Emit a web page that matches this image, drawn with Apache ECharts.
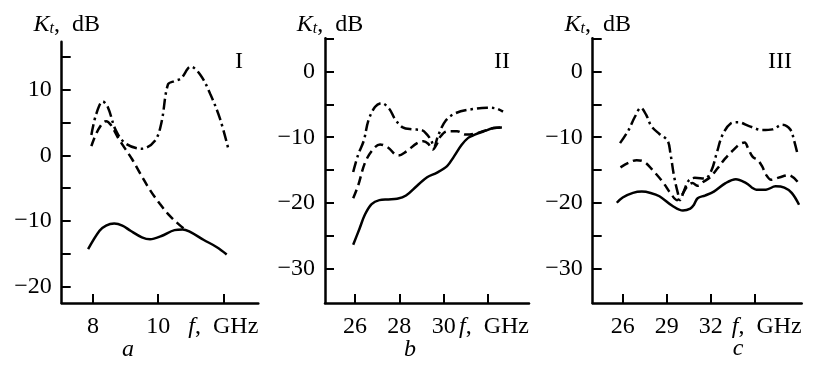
<!DOCTYPE html>
<html><head><meta charset="utf-8">
<script src="https://cdn.jsdelivr.net/npm/echarts@6/dist/echarts.min.js"></script>
<style>html,body{margin:0;padding:0;background:#fff}#c{width:815px;height:368px}</style>
</head><body><div id="c"></div>
<script>
// ---------- Panel I (a) ----------
const solidA = [[7.85,-14.3],[8.2,-11.5],[8.4,-10.7],[8.65,-10.4],[8.9,-10.7],[9.15,-11.5],[9.5,-12.5],[9.75,-12.8],[10.1,-12.3],[10.5,-11.4],[10.75,-11.3],[10.95,-11.6],[11.4,-12.9],[11.8,-14.0],[12.1,-15.1]];
const dashedA = [[7.95,1.4],[8.15,3.8],[8.4,5.2],[8.55,4.6],[8.8,2.4],[9.2,-0.6],[9.45,-2.8],[9.75,-5.3],[10.05,-7.4],[10.35,-9.2],[10.65,-10.6],[10.9,-11.6]];
const dashdotA = [[7.95,3.1],[8.1,6.3],[8.3,8.2],[8.45,7.4],[8.7,3.8],[9.0,1.8],[9.5,1.0],[9.9,2.2],[10.1,5.0],[10.3,10.8],[10.5,11.3],[10.7,11.7],[11.0,13.5],[11.3,12.2],[11.6,9.3],[11.9,5.5],[12.15,1.0]];
// ---------- Panel II (b) ----------
const solidB = [[25.92,-26.4],[26.2,-24.0],[26.45,-21.8],[26.75,-20.2],[27.1,-19.6],[27.5,-19.5],[27.9,-19.4],[28.3,-18.9],[28.8,-17.4],[29.25,-16.1],[29.7,-15.4],[30.15,-14.4],[30.45,-13.0],[30.8,-11.2],[31.1,-10.1],[31.4,-9.6],[31.8,-9.1],[32.25,-8.6],[32.62,-8.5]];
const dashedB = [[25.92,-19.3],[26.15,-17.3],[26.45,-13.9],[26.8,-11.9],[27.13,-11.1],[27.5,-11.6],[27.8,-12.6],[27.95,-12.8],[28.3,-12.2],[28.8,-10.9],[29.08,-10.6],[29.3,-11.0],[29.5,-11.9],[29.68,-11.1],[29.85,-9.9],[30.15,-9.1],[30.6,-9.1],[31.0,-9.6],[31.35,-9.5],[31.8,-9.05],[32.25,-8.6],[32.62,-8.5]];
const dashdotB = [[25.92,-15.3],[26.15,-12.6],[26.4,-10.5],[26.6,-7.5],[26.9,-5.4],[27.2,-4.8],[27.55,-5.7],[27.8,-7.2],[28.15,-8.5],[28.6,-8.8],[29.0,-8.9],[29.25,-9.6],[29.45,-10.6],[29.55,-11.6],[29.75,-9.7],[30.1,-7.4],[30.55,-6.3],[31.3,-5.7],[31.95,-5.5],[32.35,-5.6],[32.67,-6.1]];
// ---------- Panel III (c) ----------
const solidC = [[25.6,-20.0],[26.0,-19.2],[26.7,-18.5],[27.3,-18.3],[27.9,-18.5],[28.5,-19.0],[29.4,-20.5],[30.1,-21.2],[30.6,-20.9],[30.85,-20.3],[31.1,-19.3],[31.6,-18.9],[32.2,-18.3],[33.0,-17.0],[33.7,-16.4],[34.4,-17.0],[35.1,-18.0],[35.75,-18.0],[36.4,-17.5],[37.0,-17.7],[37.5,-18.5],[38.0,-20.3]];
const dashedC = [[25.85,-14.6],[26.4,-13.9],[26.95,-13.5],[27.5,-13.8],[28.07,-15.1],[28.75,-16.9],[29.3,-18.7],[29.7,-19.6],[30.0,-18.9],[30.4,-17.5],[30.75,-17.0],[31.1,-17.4],[31.5,-16.8],[31.95,-16.1],[32.4,-14.9],[32.95,-13.3],[33.5,-12.0],[34.0,-11.0],[34.3,-10.8],[34.55,-11.8],[34.85,-13.0],[35.2,-13.5],[35.5,-14.5],[35.75,-15.7],[36.1,-16.5],[36.7,-16.1],[37.3,-15.8],[37.9,-16.8]];
const dashdotC = [[25.82,-10.9],[26.4,-8.9],[26.85,-6.8],[27.24,-5.5],[27.6,-6.6],[27.95,-8.3],[28.5,-9.5],[29.05,-10.5],[29.25,-12.5],[29.5,-16.0],[29.75,-18.5],[29.9,-19.6],[30.2,-18.0],[30.5,-16.6],[30.9,-16.2],[31.6,-16.3],[32.05,-15.0],[32.4,-12.4],[32.8,-9.6],[33.35,-7.9],[33.85,-7.7],[34.6,-8.3],[35.5,-8.9],[36.2,-8.8],[36.85,-8.1],[37.4,-8.8],[37.65,-10.4],[37.9,-12.6]];

// ---------- Tick positions and labels ----------
const xTicksA = [8,10,12], xLabelsA = [8,10];
const xTicksB = [26,28,30,32], xLabelsB = [26,28,30];
const xTicksC = [26,29,32,35], xLabelsC = [26,29,32];
const yTicksA = [-20,-15,-10,-5,0,5,10,15], yLabelsA = [-20,-10,0,10];
const yTicksBC = [-30,-25,-20,-15,-10,-5,0,5], yLabelsBC = [-30,-20,-10,0];
const panelNames = ['I','II','III'];
const panelLetters = ['a','b','c'];

const FONT = 'Liberation Serif';
const FS = 24;
const grids = [
  {left:61.7, top:41.7, width:196.6, height:261.3},
  {left:325, top:38.3, width:204, height:264.7},
  {left:592.7, top:38.3, width:209, height:264.7}
];
const xRanges = [[7.04,13.07],[24.65,33.84],[23.96,38.18]];
const yRanges = [[-22.5,17.3],[-35.3,5.1],[-35.3,5.1]];
const xT = [xTicksA,xTicksB,xTicksC], xL = [xLabelsA,xLabelsB,xLabelsC];
const yT = [yTicksA,yTicksBC,yTicksBC], yL = [yLabelsA,yLabelsBC,yLabelsBC];
const seriesData = [[solidA,dashedA,dashdotA],[solidB,dashedB,dashdotB],[solidC,dashedC,dashdotC]];
const styles = ['solid',[9,5],[11,4,2.5,4]];

const lineW = 2.5;
const fmtNum = v => String(v).replace('-', '\u2212');

const xAxis = [], yAxis = [], series = [];
for (let i=0;i<3;i++){
  xAxis.push({
    type:'value', gridIndex:i, min:xRanges[i][0], max:xRanges[i][1],
    splitLine:{show:false},
    axisLine:{show:true, onZero:false, lineStyle:{color:'#000',width:lineW}},
    axisTick:{show:true, inside:true, length:9, lineStyle:{color:'#000',width:2}, customValues:xT[i]},
    axisLabel:{show:true, customValues:xL[i], color:'#000', fontFamily:FONT, fontSize:FS, margin:12, formatter:fmtNum},
    name:'{i|f},  GHz', nameLocation:'end', nameGap:0, nameMoveOverlap:false,
    nameTextStyle:{color:'#000', fontFamily:FONT, fontSize:FS, align:'right', verticalAlign:'top', padding:[12,0,0,0],
      rich:{i:{fontStyle:'italic', fontFamily:FONT, fontSize:FS, color:'#000'}}}
  });
  yAxis.push({
    type:'value', gridIndex:i, min:yRanges[i][0], max:yRanges[i][1],
    splitLine:{show:false},
    axisLine:{show:true, onZero:false, lineStyle:{color:'#000',width:lineW}},
    axisTick:{show:true, inside:true, length:9, lineStyle:{color:'#000',width:2}, customValues:yT[i]},
    axisLabel:{show:true, customValues:yL[i], color:'#000', fontFamily:FONT, fontSize:FS, margin:10, formatter:fmtNum}
  });
  seriesData[i].forEach((d,k)=>{
    series.push({type:'line', xAxisIndex:i, yAxisIndex:i, data:d, showSymbol:false, smooth:0.35,
      lineStyle:{color:'#000', width:lineW, type:styles[k], cap:'butt'}, silent:true});
  });
}

const graphic = [];
const letterPos = [[128,350],[410,350],[738,349]];
const numPos = [[239,62],[502,62],[780,62]];
for (let i=0;i<3;i++){
  const g = grids[i];
  graphic.push({type:'text', x:g.left+5, y:25, style:{
    text:'{k|K}{t|t}{n|,  dB}', align:'center', verticalAlign:'middle', fill:'#000',
    font: FS+'px "'+FONT+'"',
    rich:{k:{fontStyle:'italic', fontSize:FS, fontFamily:FONT, lineHeight:24},
          t:{fontStyle:'italic', fontSize:16, fontFamily:FONT, lineHeight:8, padding:[16,0,0,0], verticalAlign:'bottom'},
          n:{fontSize:FS, fontFamily:FONT, lineHeight:24}}
  }});
  graphic.push({type:'text', x:numPos[i][0], y:numPos[i][1], style:{text:panelNames[i], align:'center', verticalAlign:'middle', fill:'#000', font: FS+'px "'+FONT+'"'}});
  graphic.push({type:'text', x:letterPos[i][0], y:letterPos[i][1], style:{text:panelLetters[i], align:'center', verticalAlign:'middle', fill:'#000', font: 'italic '+FS+'px "'+FONT+'"'}});
}

const chart = echarts.init(document.getElementById('c'), null, {renderer:'canvas'});
chart.setOption({
  animation:false,
  backgroundColor:'#fff',
  grid: grids.map(g=>Object.assign({containLabel:false, outerBoundsMode:'none'}, g)),
  xAxis, yAxis, series, graphic
});
</script></body></html>
